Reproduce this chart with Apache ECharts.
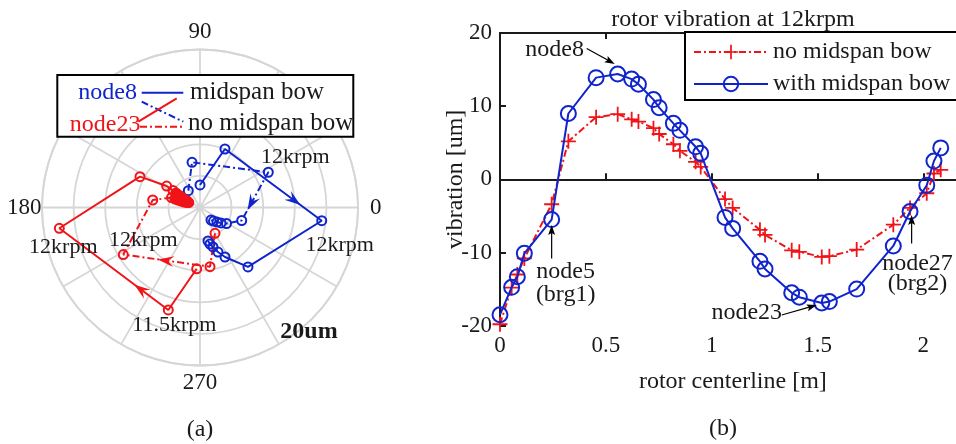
<!DOCTYPE html>
<html>
<head>
<meta charset="utf-8">
<script src="https://cdn.jsdelivr.net/npm/echarts@6/dist/echarts.min.js"></script>
<style>
html,body{margin:0;padding:0;background:#fff;}
#c{width:956px;height:444px;}
</style>
</head>
<body>
<div id="c"></div>
<script>
// ---- (a) polar orbit data: [amplitude um, phase deg] ----
const node8Bow = [[2.85,90],[8.05,66.9],[15.5,353.8],[9.67,308.9],[7.02,296.8],[6.08,292.0],[5.26,288.2],[4.79,285.3],[4.36,283.4]];
const node8NoBow = [[2.59,124.9],[5.81,100.0],[9.73,27.3],[5.53,342.7],[3.92,328.9],[3.30,323.6],[2.83,319.5],[2.42,315.0],[2.11,311.3]];
const node23Bow = [[7.77,266.9],[13.58,252.8],[18.0,188.4],[8.54,152.8],[5.02,147.2],[4.04,147.8],[3.55,148.9],[3.15,149.8],[2.83,150.6],[2.52,151.5],[2.21,152.7],[1.93,152.6],[1.7,155.0]];
const node23NoBow = [[3.78,300.2],[7.6,279.6],[11.39,211.5],[6.06,171.0],[3.82,160.7],[3.34,161.2],[2.94,161.2],[2.54,161.1],[2.14,161.0],[1.76,159.0],[1.55,156.0]];
const angleLabels = [0, 90, 180, 270];

// ---- (b) rotor shape at 12krpm ----
const stationX = [0,0.055,0.082,0.115,0.244,0.323,0.454,0.556,0.622,0.654,0.725,0.752,0.819,0.850,0.924,0.948,1.063,1.099,1.228,1.252,1.378,1.414,1.52,1.556,1.685,1.858,1.937,2.016,2.05,2.082];
const vibNoBow = [-19.8,-14.8,-13.0,-10.8,-3.4,5.2,8.5,8.9,8.2,7.9,7.0,6.2,4.8,3.9,2.4,1.7,-2.7,-3.9,-6.9,-7.6,-9.7,-9.9,-10.6,-10.5,-9.6,-6.2,-3.9,-1.9,0.8,1.3];
const vibBow = [-18.5,-14.75,-13.3,-10.1,-5.5,9.0,13.9,14.4,13.7,13.0,10.9,9.8,7.65,6.7,4.45,3.55,-5.2,-6.7,-11.2,-12.25,-15.5,-16.1,-16.9,-16.7,-15.0,-9.1,-4.4,-0.8,2.5,4.3];

const SERIF = '"Liberation Serif", "Times New Roman", serif';
const BLUE = '#1024cc';
const RED = '#f01418';
const GRID = '#d6d6d6';
const INK = '#1a1a1a';
const DASHDOT = [7, 3, 2, 3];

const chart = echarts.init(document.getElementById('c'));

// node23 low-speed points pile up near the origin; draw them solid
function orbitSeries(name, data, color, dashed, fillInside) {
  return {
    name, type: 'line', coordinateSystem: 'polar',
    data: data.map(d => (fillInside && d[0] < 3.6)
      ? { value: d, itemStyle: { color } }
      : d),
    symbol: 'circle', symbolSize: 9, showSymbol: true,
    lineStyle: { color, width: 2, type: dashed ? DASHDOT : 'solid' },
    itemStyle: { color: 'rgba(255,255,255,0)', borderColor: color, borderWidth: 2 },
    z: 5
  };
}

const xy = (ys) => stationX.map((x, i) => [x, ys[i]]);

const frameAxis = {
  axisLine: { show: true, lineStyle: { color: INK, width: 2 } },
  axisTick: { show: true, inside: true, length: 6, lineStyle: { color: INK, width: 2 } },
  splitLine: { show: false }
};

chart.setOption({
  animation: false,
  polar: { center: [200, 207.5], radius: 158 },
  angleAxis: {
    type: 'value', min: 0, max: 360, interval: 30, startAngle: 0, clockwise: false,
    axisLine: { show: true, lineStyle: { color: GRID, width: 1.8 } },
    axisTick: { show: false },
    splitLine: { show: true, lineStyle: { color: GRID, width: 1.8 } },
    axisLabel: { show: false }
  },
  radiusAxis: {
    type: 'value', min: 0, max: 20, interval: 4,
    axisLine: { show: false }, axisTick: { show: false }, axisLabel: { show: false },
    splitLine: { show: true, lineStyle: { color: GRID, width: 1.8 } }
  },
  grid: { left: 500, top: 33, width: 465.7, height: 292.7, outerBoundsMode: 'none', containLabel: false },
  xAxis: [Object.assign({
    type: 'value', min: 0, max: 2.2, interval: 0.5, position: 'bottom',
    axisLabel: { color: INK, fontSize: 23, fontFamily: SERIF, margin: 9, showMaxLabel: false },
    name: 'rotor centerline [m]', nameLocation: 'middle', nameGap: 44, nameMoveOverlap: false,
    nameTextStyle: { color: INK, fontSize: 24, fontFamily: SERIF }
  }, frameAxis), Object.assign({
    type: 'value', min: 0, max: 2.2, interval: 0.5, position: 'top',
    axisLabel: { show: false }
  }, frameAxis)],
  yAxis: Object.assign({
    type: 'value', min: -20, max: 20, interval: 10,
    axisLabel: { color: INK, fontSize: 23, fontFamily: SERIF, margin: 8 },
    name: 'vibration [um]', nameLocation: 'middle', nameGap: 32, nameMoveOverlap: false,
    nameTextStyle: { color: INK, fontSize: 24, fontFamily: SERIF }
  }, frameAxis),
  legend: {
    data: ['no midspan bow', 'with midspan bow'],
    orient: 'vertical', left: 685, top: 32,
    padding: [8, 30, 4, 8], itemGap: 8, itemWidth: 74, itemHeight: 18,
    borderColor: '#000', borderWidth: 2, backgroundColor: '#fff',
    textStyle: { color: INK, fontSize: 24, fontFamily: SERIF, lineHeight: 24 }
  },
  series: [
    orbitSeries('node8 midspan bow', node8Bow, BLUE, false, false),
    orbitSeries('node8 no midspan bow', node8NoBow, BLUE, true, false),
    orbitSeries('node23 midspan bow', node23Bow, RED, false, true),
    orbitSeries('node23 no midspan bow', node23NoBow, RED, true, true),
    {
      name: 'no midspan bow', type: 'line', data: xy(vibNoBow),
      symbol: 'path://M-1.2,-10h2.4v8.8h8.8v2.4h-8.8v8.8h-2.4v-8.8h-8.8v-2.4h8.8z',
      symbolSize: 15, showSymbol: true,
      lineStyle: { color: RED, width: 2, type: DASHDOT },
      itemStyle: { color: RED }, z: 3
    },
    {
      name: 'with midspan bow', type: 'line', data: xy(vibBow),
      symbol: 'circle', symbolSize: 15, showSymbol: true,
      lineStyle: { color: BLUE, width: 2 },
      itemStyle: { color: 'rgba(255,255,255,0)', borderColor: BLUE, borderWidth: 2 }, z: 4
    }
  ]
});

// ---- annotations ----
const txt = (text, x, y, opt = {}) => ({
  type: 'text', z: 60,
  style: Object.assign({ text, x, y, fill: INK, font: '24px ' + SERIF, align: 'center', verticalAlign: 'middle' }, opt)
});
const seg = (x1, y1, x2, y2, color, width, dash) => ({
  type: 'line', z: 60,
  shape: { x1, y1, x2, y2 },
  style: { stroke: color, lineWidth: width, lineDash: dash || null }
});
function head(tip, ux, uy, L, W, notch, color) {
  const nx = -uy, ny = ux;
  const bx = tip[0] - L * ux, by = tip[1] - L * uy;
  return {
    type: 'polygon', z: 61,
    shape: { points: [tip, [bx + nx * W / 2, by + ny * W / 2], [tip[0] - notch * L * ux, tip[1] - notch * L * uy], [bx - nx * W / 2, by - ny * W / 2]] },
    style: { fill: color }
  };
}

const orbitList = [node8Bow, node8NoBow, node23Bow, node23NoBow];
const orbitColor = [BLUE, BLUE, RED, RED];
const g = [];

// phase labels just outside the outer ring
const c0 = chart.convertToPixel({ seriesIndex: 0 }, [0, 0]);
angleLabels.forEach(a => {
  const e = chart.convertToPixel({ seriesIndex: 0 }, [20, a]);
  const k = 1.113;
  g.push(txt(String(a), c0[0] + (e[0] - c0[0]) * k, c0[1] + (e[1] - c0[1]) * k, { font: '23px ' + SERIF }));
});

// direction arrows along the orbits
const orbitArrows = [
  { s: 0, from: 1, t: 0.78 },
  { s: 1, from: 2, t: 0.78 },
  { s: 2, from: 1, t: 0.31 },
  { s: 3, from: 1, t: 0.6 }
];
orbitArrows.forEach(a => {
  const p0 = chart.convertToPixel({ seriesIndex: a.s }, orbitList[a.s][a.from]);
  const p1 = chart.convertToPixel({ seriesIndex: a.s }, orbitList[a.s][a.from + 1]);
  const dx = p1[0] - p0[0], dy = p1[1] - p0[1], len = Math.hypot(dx, dy);
  const tip = [p0[0] + a.t * dx, p0[1] + a.t * dy];
  g.push(head(tip, dx / len, dy / len, 16, 11, 0.62, orbitColor[a.s]));
});

// speed labels on orbit points
const speedLabels = [
  { s: 0, i: 2, text: '12krpm', dx: 18, dy: 24 },
  { s: 1, i: 2, text: '12krpm', dx: 27, dy: -15 },
  { s: 2, i: 2, text: '12krpm', dx: 4, dy: 19 },
  { s: 2, i: 1, text: '11.5krpm', dx: 6, dy: 15 },
  { s: 3, i: 2, text: '12krpm', dx: 20, dy: -14 }
];
speedLabels.forEach(l => {
  const p = chart.convertToPixel({ seriesIndex: l.s }, orbitList[l.s][l.i]);
  g.push(txt(l.text, p[0] + l.dx, p[1] + l.dy, { font: '22px ' + SERIF }));
});
g.push(txt('20um', 309, 332, { font: 'bold 24px ' + SERIF }));

// orbit key box
g.push({ type: 'rect', z: 55, shape: { x: 57.3, y: 75, width: 296, height: 61.7 }, style: { fill: '#fff', stroke: '#000', lineWidth: 2 } });
g.push(txt('node8', 137, 92.5, { fill: BLUE, align: 'right' }));
g.push(txt('node23', 140.5, 125, { fill: RED, align: 'right' }));
g.push(txt('midspan bow', 190, 92, { align: 'left', font: '25px ' + SERIF }));
g.push(txt('no midspan bow', 188, 123, { align: 'left', font: '25px ' + SERIF }));
g.push(seg(141.7, 92.7, 183.3, 92.7, BLUE, 2));
g.push(seg(141.7, 101.7, 183.3, 121.7, BLUE, 2, DASHDOT));
g.push(seg(138.3, 121.7, 176.7, 98.3, RED, 2));
g.push(seg(140, 126.7, 183.3, 126.7, RED, 2, DASHDOT));

// node callouts on the rotor shape
const shapeNotes = [
  { i: 7, lines: ['node8'], tx: -63, ty: -24, lh: 0, a0: [-31, -25.5], a1: [-3, -10] },
  { i: 4, lines: ['node5', '(brg1)'], tx: 14, ty: 52, lh: 23.5, a0: [0, 39], a1: [0, 5.5] },
  { i: 22, lines: ['node23'], tx: -75, ty: 10, lh: 0, a0: [-40, 12], a1: [-5, 2] },
  { i: 26, lines: ['node27', '(brg2)'], tx: 7.5, ty: 52, lh: 20, a0: [1.6, 32], a1: [1.6, 3.5] }
];
shapeNotes.forEach(n => {
  const p = chart.convertToPixel({ seriesIndex: 5 }, [stationX[n.i], vibBow[n.i]]);
  n.lines.forEach((s, k) => g.push(txt(s, p[0] + n.tx, p[1] + n.ty + k * n.lh)));
  const s0 = [p[0] + n.a0[0], p[1] + n.a0[1]], s1 = [p[0] + n.a1[0], p[1] + n.a1[1]];
  const dx = s1[0] - s0[0], dy = s1[1] - s0[1], len = Math.hypot(dx, dy);
  g.push(seg(s0[0], s0[1], s1[0] - 6 * dx / len, s1[1] - 6 * dy / len, '#000', 1.2));
  g.push(head(s1, dx / len, dy / len, 10, 7, 0.8, '#000'));
});

// titles and panel tags
g.push(txt('rotor vibration at 12krpm', 733, 20));
g.push(txt('(a)', 200, 430));
g.push(txt('(b)', 723, 429));

chart.setOption({ graphic: g });
</script>
</body>
</html>
